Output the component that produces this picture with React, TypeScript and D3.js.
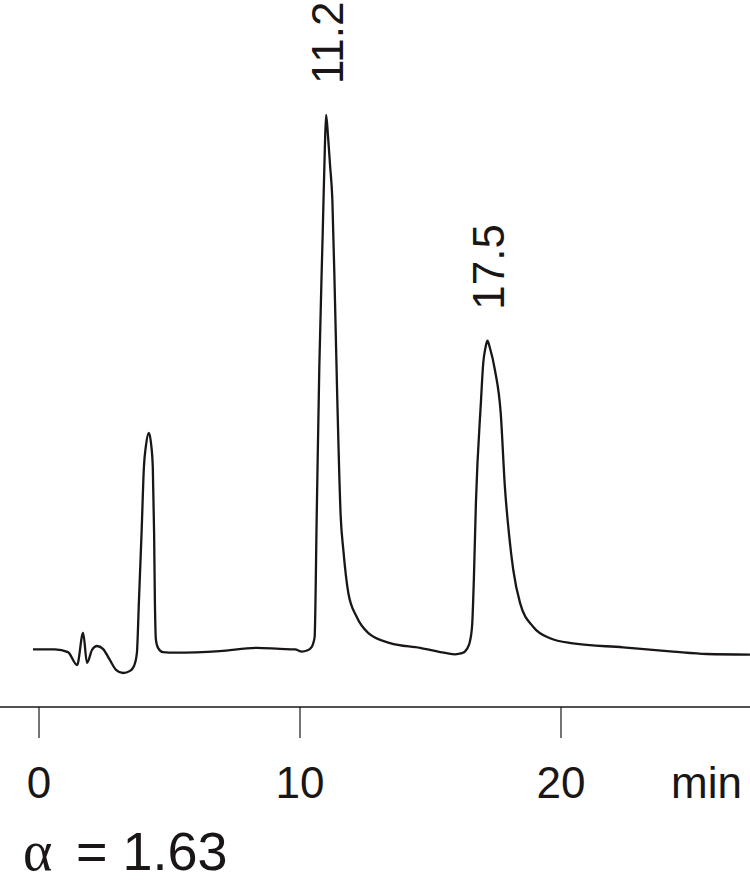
import React from 'react';
import * as d3 from 'd3';

// retention time (min) and detector signal (relative, 11.2 peak = 100)
const times = [
  -0.23, 0.61, 1.11, 1.46, 1.69, 1.84, 2.03, 2.22, 2.45, 2.72, 2.95, 3.22, 3.49, 3.64,
  3.75, 3.83, 3.93, 4.02, 4.1, 4.21, 4.29, 4.36, 4.41, 4.44, 4.48, 4.56, 4.75, 5.21,
  6.93, 8.35, 9.23, 9.81, 10.07, 10.27, 10.45, 10.56, 10.64, 10.74, 10.87, 10.95, 11.0,
  11.07, 11.15, 11.24, 11.34, 11.43, 11.56, 11.66, 11.85, 12.17, 12.61, 13.45, 14.6,
  15.62, 15.94, 16.21, 16.4, 16.52, 16.6, 16.66, 16.74, 16.93, 17.02, 17.11, 17.18, 17.28,
  17.47, 17.69, 17.85, 18.02, 18.17, 18.43, 18.94, 19.58, 20.46, 22.38, 24.29, 25.58, 27.24,
];
const signal = [
  0.13, 0.1, -0.4, -2.8, 3.2, -2.4, 0, 0.75, 0.2, -1.9, -3.7, -4.3, -3.9, -3.0,
  -0.6, 9.3, 21.9, 34.2, 38.3, 40.6, 38.7, 34.2, 21.9, 9.3, 1.9, 0.4, -0.4, -0.5,
  -0.2, 0.4, 0.2, 0.1, -0.3, -0.1, 0.6, 2.4, 24.9, 52.9, 77.9, 93.5, 100,
  96.3, 90.7, 84.1, 65.4, 46.7, 24.9, 18.7, 10.7, 6.2, 3.2, 1.3, 0.4,
  -0.6, -0.8, -0.6, 0.2, 1.8, 5.0, 13.0, 27.5, 46.2, 53.6, 56.6, 57.8, 56.4,
  52.3, 44.3, 30.5, 21.1, 15.0, 8.8, 4.3, 2.2, 1.25, 0.5, -0.3, -0.75, -0.85,
];

const xTicks = [0, 10, 20];
const peakLabels = ['11.2', '17.5'];
const peakTimes = [11.0, 17.18];
const peakValues = [100, 57.8];
const alphaValue = '1.63';

const W = 750;
const H = 886;

export default function App() {
  const x = d3.scaleLinear().domain([0, 20]).range([39, 561]);
  const y = d3.scaleLinear().domain([0, 100]).range([650, 115]);
  const axisY = 707;

  const pts: [number, number][] = times.map((t, i) => [t, signal[i]]);
  const line = d3
    .line<[number, number]>()
    .x((d) => x(d[0]))
    .y((d) => y(d[1]))
    .curve(d3.curveMonotoneX);

  const font = '"Liberation Sans", Arial, Helvetica, sans-serif';

  return (
    <svg
      width={W}
      height={H}
      style={{ position: 'absolute', left: 0, top: 0, background: '#fff' }}
    >
      <path d={line(pts) || ''} fill="none" stroke="#1a1616" strokeWidth={2.3} strokeLinejoin="round" />

      {/* time axis */}
      <line x1={0} x2={W} y1={axisY} y2={axisY} stroke="#1a1616" strokeWidth={1.5} />
      {xTicks.map((t) => (
        <g key={t}>
          <line x1={x(t)} x2={x(t)} y1={axisY} y2={axisY + 31} stroke="#1a1616" strokeWidth={1.2} />
          <text x={x(t)} y={798} textAnchor="middle" fontFamily={font} fontSize={44} fill="#1a1616">
            {t}
          </text>
        </g>
      ))}
      <text x={671} y={798} fontFamily={font} fontSize={44} fill="#1a1616">
        min
      </text>

      {/* peak retention labels */}
      {peakLabels.map((lbl, i) => {
        const px = x(peakTimes[i]) + 17;
        const py = y(peakValues[i]) - 31;
        return (
          <text
            key={lbl}
            transform={`translate(${px},${py}) rotate(-90)`}
            fontFamily={font}
            fontSize={44}
            fill="#1a1616"
          >
            {lbl}
          </text>
        );
      })}

      {/* selectivity */}
      <text x={23} y={870} fontFamily='"Liberation Serif", "DejaVu Serif", serif' fontSize={56} fill="#1a1616">
        α
      </text>
      <text x={76} y={870} fontFamily={font} fontSize={54} fill="#1a1616">
        = {alphaValue}
      </text>
    </svg>
  );
}
